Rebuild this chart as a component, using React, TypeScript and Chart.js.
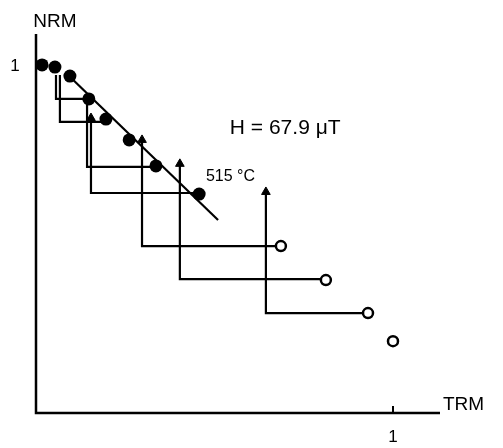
import React, { useEffect, useRef } from "react";
import { Chart, registerables } from "chart.js";

Chart.register(...registerables);

// Filled points (NRM vs TRM)
const trmFilled = [0.017, 0.053, 0.095, 0.148, 0.196, 0.261, 0.336, 0.457];
const nrmFilled = [1.003, 0.997, 0.971, 0.905, 0.847, 0.787, 0.712, 0.631];

// Open points
const trmOpen = [0.686, 0.812, 0.93, 1.0];
const nrmOpen = [0.481, 0.383, 0.288, 0.207];

// Fitted line end points
const fitTrm = [0.084, 0.51];
const fitNrm = [0.98, 0.556];

// pTRM checks: vertical at checkX from checkTop down to checkBottom, then horizontal to checkEnd
const checkX = [0.056, 0.067, 0.143, 0.154, 0.297, 0.403, 0.644];
const checkTop = [0.974, 0.974, 0.89, 0.85, 0.787, 0.718, 0.637];
const checkBottom = [0.905, 0.839, 0.709, 0.634, 0.481, 0.386, 0.288];
const checkEnd = [0.148, 0.196, 0.336, 0.457, 0.686, 0.812, 0.93];
const checkArrow = [false, false, false, true, true, true, true];

const xTickLabels = ["1"];
const yTickLabels = ["1"];
const xTickValues = [1];
const yTickValues = [1];

const fieldLabel = "H = 67.9 \u03bcT";
const fieldPos = [0.543, 0.821];
const tempLabel = "515 \u00b0C";
const tempPos = [0.476, 0.68];

const FONT = '"Liberation Sans", Arial, Helvetica, sans-serif';

const decor = {
  id: "decor",
  afterDraw(chart: any) {
    const { ctx, chartArea: a, scales } = chart;
    const x = scales.x;
    const y = scales.y;
    ctx.save();
    ctx.strokeStyle = "#000";
    ctx.fillStyle = "#000";
    ctx.lineWidth = 2.5;
    ctx.beginPath();
    ctx.moveTo(a.left, a.top);
    ctx.lineTo(a.left, a.bottom);
    ctx.lineTo(a.right, a.bottom);
    ctx.stroke();

    ctx.lineWidth = 2;
    xTickValues.forEach((v, i) => {
      const px = x.getPixelForValue(v);
      ctx.beginPath();
      ctx.moveTo(px, a.bottom);
      ctx.lineTo(px, a.bottom - 7);
      ctx.stroke();
      ctx.font = `17px ${FONT}`;
      ctx.textAlign = "center";
      ctx.textBaseline = "middle";
      ctx.fillText(xTickLabels[i], px, a.bottom + 24);
    });
    yTickValues.forEach((v, i) => {
      const py = y.getPixelForValue(v);
      ctx.font = `17px ${FONT}`;
      ctx.textAlign = "center";
      ctx.textBaseline = "middle";
      ctx.fillText(yTickLabels[i], a.left - 21, py);
    });

    ctx.font = `19px ${FONT}`;
    ctx.textAlign = "center";
    ctx.textBaseline = "middle";
    ctx.fillText("NRM", a.left + 19, a.top - 12);
    ctx.textAlign = "left";
    ctx.fillText("TRM", a.right + 3, a.bottom - 8);

    ctx.font = `21px ${FONT}`;
    ctx.fillText(fieldLabel, x.getPixelForValue(fieldPos[0]), y.getPixelForValue(fieldPos[1]));
    ctx.font = `16px ${FONT}`;
    ctx.fillText(tempLabel, x.getPixelForValue(tempPos[0]), y.getPixelForValue(tempPos[1]));
    ctx.restore();
  },
};

export default function App() {
  const ref = useRef<HTMLCanvasElement>(null);

  useEffect(() => {
    if (!ref.current) return;
    const checkSets = checkX.map((cx, i) => ({
      type: "line" as const,
      data: [
        { x: cx, y: checkTop[i] },
        { x: cx, y: checkBottom[i] },
        { x: checkEnd[i], y: checkBottom[i] },
      ],
      showLine: true,
      borderColor: "#000",
      backgroundColor: "#000",
      borderWidth: 2.2,
      pointStyle: "triangle" as const,
      pointRadius: checkArrow[i] ? [5, 0, 0] : [0, 0, 0],
      pointBorderWidth: 1,
      tension: 0,
      order: 2,
    }));

    const chart = new Chart(ref.current, {
      type: "scatter",
      data: {
        datasets: [
          {
            data: trmFilled.map((v, i) => ({ x: v, y: nrmFilled[i] })),
            backgroundColor: "#000",
            borderColor: "#000",
            pointRadius: 6.5,
            pointBorderWidth: 0,
            order: 0,
          },
          {
            data: trmOpen.map((v, i) => ({ x: v, y: nrmOpen[i] })),
            backgroundColor: "#fff",
            borderColor: "#000",
            pointRadius: 5,
            pointBorderWidth: 2.5,
            order: 0,
          },
          {
            type: "line" as const,
            data: fitTrm.map((v, i) => ({ x: v, y: fitNrm[i] })),
            showLine: true,
            borderColor: "#000",
            borderWidth: 2.2,
            pointRadius: 0,
            order: 1,
          },
          ...checkSets,
        ] as any,
      },
      options: {
        responsive: false,
        animation: false,
        layout: { padding: { left: 36, right: 63, top: 34, bottom: 35 } },
        plugins: { legend: { display: false }, tooltip: { enabled: false } },
        scales: {
          x: { type: "linear", min: 0, max: 1.1317, display: false },
          y: { type: "linear", min: 0, max: 1.0922, display: false },
        },
      },
      plugins: [decor],
    });
    return () => chart.destroy();
  }, []);

  return (
    <div style={{ position: "fixed", left: 0, top: 0, width: 503, height: 448, background: "#fff" }}>
      <canvas ref={ref} width={503} height={448} />
    </div>
  );
}
